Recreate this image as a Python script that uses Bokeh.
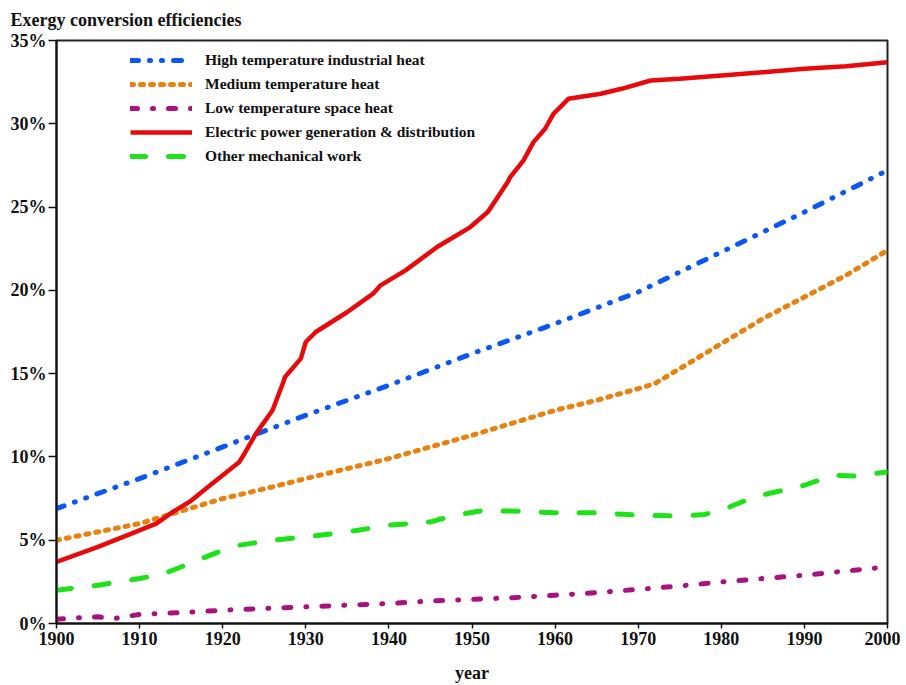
from bokeh.plotting import figure
from bokeh.models import Range1d, PrintfTickFormatter, FixedTicker, Legend, LegendItem
from bokeh.embed import file_html
from bokeh.resources import INLINE

# ---- data ----
high_years = [1900, 1910, 1920, 1930, 1940, 1950, 1960, 1970, 1980, 1990, 2000]
high_vals = [6.9, 8.7, 10.6, 12.5, 14.3, 16.2, 18.0, 19.9, 22.3, 24.7, 27.2]

med_years = [1900, 1910, 1920, 1926, 1930, 1940, 1950, 1960, 1965, 1970, 1972, 1975, 1980, 1985, 1990, 1995, 2000]
med_vals = [5.0, 6.0, 7.5, 8.2, 8.7, 9.9, 11.3, 12.8, 13.4, 14.1, 14.4, 15.3, 16.8, 18.3, 19.6, 20.9, 22.4]

low_years = [1900, 1903, 1905, 1907, 1910, 1915, 1920, 1925, 1930, 1935, 1940, 1945, 1950, 1955, 1960, 1965, 1970, 1975, 1980, 1985, 1990, 1995, 2000]
low_vals = [0.25, 0.35, 0.4, 0.3, 0.55, 0.65, 0.8, 0.9, 1.0, 1.1, 1.2, 1.35, 1.45, 1.55, 1.7, 1.85, 2.05, 2.25, 2.5, 2.7, 2.9, 3.15, 3.4]

elec_years = [1900, 1905, 1909, 1912, 1914, 1916, 1918, 1920, 1922, 1922.5, 1924, 1926, 1927.3, 1927.5, 1929.4, 1930, 1931.2, 1935, 1938.1, 1939, 1942, 1945.8, 1949.8, 1951.9, 1954.3, 1954.6, 1956.2, 1957.4, 1958.8, 1959.8, 1961.6, 1965.5, 1968, 1971.5, 1975, 1980, 1985, 1990, 1995, 2000]
elec_vals = [3.7, 4.6, 5.4, 6.0, 6.7, 7.3, 8.1, 8.9, 9.7, 10.1, 11.4, 12.8, 14.5, 14.8, 15.9, 16.9, 17.5, 18.7, 19.8, 20.3, 21.2, 22.6, 23.8, 24.7, 26.5, 26.8, 27.8, 28.9, 29.7, 30.6, 31.5, 31.8, 32.1, 32.6, 32.7, 32.9, 33.1, 33.3, 33.45, 33.7]

mech_years = [1900, 1905, 1910, 1913, 1916, 1920, 1922, 1926, 1930, 1935, 1940, 1945, 1948, 1951, 1955, 1960, 1965, 1970, 1975, 1978, 1980, 1984, 1990, 1993.5, 1996, 2000]
mech_vals = [2.0, 2.3, 2.7, 3.0, 3.6, 4.4, 4.7, 5.0, 5.2, 5.5, 5.9, 6.1, 6.5, 6.75, 6.75, 6.65, 6.65, 6.5, 6.45, 6.55, 6.8, 7.6, 8.3, 8.9, 8.85, 9.1]

title_text = "Exergy conversion efficiencies"
series_names = [
    "High temperature industrial heat",
    "Medium temperature heat",
    "Low temperature space heat",
    "Electric power generation & distribution",
    "Other mechanical work",
]
x_ticks = [1900, 1910, 1920, 1930, 1940, 1950, 1960, 1970, 1980, 1990, 2000]
y_ticks = [0, 5, 10, 15, 20, 25, 30, 35]

FONT = "Liberation Serif"

p = figure(width=900, height=685, output_backend="svg", toolbar_location=None,
           x_range=Range1d(1900, 2000), y_range=Range1d(0, 35),
           min_border_left=56, min_border_right=13, min_border_top=40, min_border_bottom=60)

p.title.text = title_text
p.title.align = "left"
p.title.offset = -46
p.title.text_font = FONT
p.title.text_font_size = "18px"
p.title.text_font_style = "bold"
p.title.text_color = "#111111"
p.title.standoff = 17
p.title.vertical_align = "top"

p.xgrid.visible = False
p.ygrid.visible = False
p.outline_line_color = "#222222"
p.outline_line_width = 2
p.background_fill_color = "white"
p.border_fill_color = "white"

for ax in (p.xaxis[0], p.yaxis[0]):
    ax.axis_line_width = 2
    ax.axis_line_color = "#111111"
    ax.major_tick_line_width = 1.5
    ax.major_tick_line_color = "#111111"
    ax.minor_tick_line_color = None
    ax.major_tick_in = 0
    ax.major_label_text_font = FONT
    ax.major_label_text_font_size = "18px"
    ax.major_label_text_font_style = "bold"
    ax.major_label_text_color = "#111111"
    ax.axis_label_text_font = FONT
    ax.axis_label_text_font_style = "bold"
    ax.axis_label_text_font_size = "18px"
    ax.axis_label_text_color = "#111111"

p.xaxis.ticker = FixedTicker(ticks=x_ticks)
p.xaxis.major_tick_out = 5
p.xaxis.major_label_standoff = 3
p.xaxis.axis_label = "year"
p.xaxis.axis_label_standoff = 15

p.yaxis.ticker = FixedTicker(ticks=y_ticks)
p.yaxis.formatter = PrintfTickFormatter(format="%d%%")
p.yaxis.major_tick_out = 8
p.yaxis.major_label_standoff = 2
p.yaxis.major_label_text_font_style = "bold"

r_high = p.line(high_years, high_vals, line_color="#0B57F5", line_width=5,
                line_dash="8 11 1 11 1 11", line_cap="round")
r_med = p.line(med_years, med_vals, line_color="#E8810F", line_width=5,
               line_dash="3 7", line_cap="round")
r_low = p.line(low_years, low_vals, line_color="#A8127E", line_width=5,
               line_dash="7 15 1 15", line_cap="round")
r_mech = p.line(mech_years, mech_vals, line_color="#1DE21A", line_width=5,
                line_dash="15 23", line_cap="round")
r_elec = p.line(elec_years, elec_vals, line_color="#E80A0A", line_width=4.5,
                line_join="round")

legend = Legend(items=[
    LegendItem(label=series_names[0], renderers=[r_high]),
    LegendItem(label=series_names[1], renderers=[r_med]),
    LegendItem(label=series_names[2], renderers=[r_low]),
    LegendItem(label=series_names[3], renderers=[r_elec]),
    LegendItem(label=series_names[4], renderers=[r_mech]),
], location=(74, 457))
legend.border_line_color = None
legend.background_fill_alpha = 0
legend.label_text_font = FONT
legend.label_text_font_size = "15.5px"
legend.label_text_font_style = "bold"
legend.label_text_color = "#111111"
legend.glyph_width = 62
legend.glyph_height = 20
legend.label_height = 20
legend.spacing = 4
legend.padding = 0
legend.margin = 0
legend.label_standoff = 13
p.add_layout(legend, "center")

open("out.html", "w").write(file_html(p, INLINE))
